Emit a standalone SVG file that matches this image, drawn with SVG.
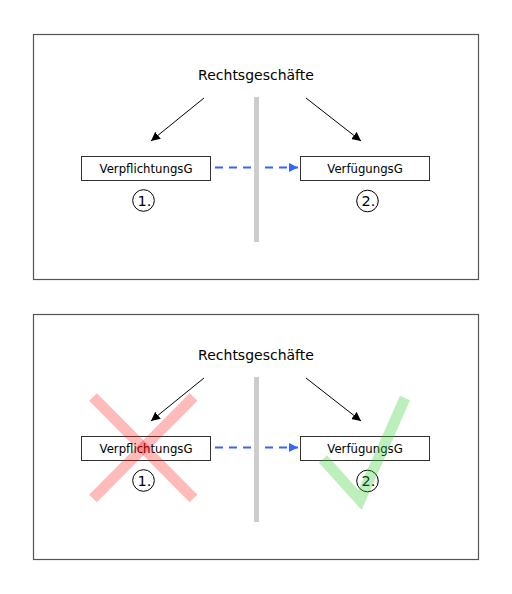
<svg xmlns="http://www.w3.org/2000/svg" width="512" height="594" viewBox="0 0 512 594">
<defs>
<style>
.frame{fill:#fff;stroke:#555;stroke-width:1.2}
.box{fill:#fff;stroke:#333;stroke-width:1}
.t{font-family:"DejaVu Sans",Verdana,sans-serif;fill:#000;text-anchor:middle}
.title{font-size:14px}
.lbl{font-size:11.7px}
.num{font-size:14.5px}
.arrow{stroke:#000;stroke-width:1;fill:none;marker-end:url(#ah)}
.dash{stroke:#3366ff;stroke-width:2;stroke-dasharray:8 6;fill:none}
.bar{fill:#cccccc}
.circ{fill:none;stroke:#000;stroke-width:1}
</style>
<marker id="ah" viewBox="0 0 10 10" refX="10" refY="5" markerWidth="9" markerHeight="9" markerUnits="userSpaceOnUse" orient="auto">
<path d="M0,0 L10,5 L0,10 Z" fill="#000"/>
</marker>
<marker id="bh" viewBox="0 0 10 10" refX="10" refY="5" markerWidth="4.5" markerHeight="4.5" orient="auto">
<path d="M0,0 L10,5 L0,10 Z" fill="#3366ff"/>
</marker>
</defs>
<g id="panel1">
<rect class="frame" x="33.5" y="34.5" width="445" height="245"/>
<g id="title1"><text class="t title" x="256" y="80">Rechtsgeschäfte</text></g>
<rect class="bar" x="254" y="97" width="5" height="145"/>
<g id="connectors1">
<line class="arrow" x1="204" y1="98" x2="151" y2="141"/>
<line class="arrow" x1="306" y1="98" x2="361" y2="141"/>
<line class="dash" x1="215" y1="167.5" x2="252" y2="167.5"/>
<line class="dash" x1="265" y1="167.5" x2="298" y2="167.5" stroke-dasharray="8 5" marker-end="url(#bh)"/>
</g>
<g id="verpflichtung1">
<rect class="box" x="81.5" y="156.5" width="129" height="24"/>
<text class="t lbl" x="146" y="172.5">VerpflichtungsG</text>
</g>
<g id="verfuegung1">
<rect class="box" x="300.5" y="156.5" width="129" height="24"/>
<text class="t lbl" x="365" y="172.5">VerfügungsG</text>
</g>
<g id="num1a"><circle class="circ" cx="143.5" cy="200.5" r="10.8"/><text class="t num" x="144.5" y="205.8">1.</text></g>
<g id="num1b"><circle class="circ" cx="367.5" cy="201" r="10.8"/><text class="t num" x="368.5" y="206.3">2.</text></g>
</g>
<g id="panel2">
<rect class="frame" x="33.5" y="314.5" width="445" height="245"/>
<g id="title2"><text class="t title" x="256" y="360">Rechtsgeschäfte</text></g>
<rect class="bar" x="254" y="377" width="5" height="145"/>
<g id="connectors2">
<line class="arrow" x1="204" y1="378" x2="151" y2="421"/>
<line class="arrow" x1="306" y1="378" x2="361" y2="421"/>
<line class="dash" x1="215" y1="447.5" x2="252" y2="447.5"/>
<line class="dash" x1="265" y1="447.5" x2="298" y2="447.5" stroke-dasharray="8 5" marker-end="url(#bh)"/>
</g>
<g id="verpflichtung2">
<rect class="box" x="81.5" y="436.5" width="129" height="24"/>
<text class="t lbl" x="146" y="452.5">VerpflichtungsG</text>
</g>
<g id="verfuegung2">
<rect class="box" x="300.5" y="436.5" width="129" height="24"/>
<text class="t lbl" x="365" y="452.5">VerfügungsG</text>
</g>
<g id="num2a"><circle class="circ" cx="143.5" cy="480.5" r="10.8"/><text class="t num" x="144.5" y="485.8">1.</text></g>
<g id="num2b"><circle class="circ" cx="367.5" cy="481" r="10.8"/><text class="t num" x="368.5" y="486.3">2.</text></g>
<g id="cross" stroke="#ff0000" stroke-opacity="0.27" stroke-width="11" fill="none">
<line x1="93" y1="397" x2="193.5" y2="498.5"/>
<line x1="193.5" y1="397" x2="93" y2="498.5"/>
</g>
<g id="check">
<path d="M323,459 L360,500 L405,398" stroke="#33cc33" stroke-opacity="0.32" stroke-width="11" fill="none" stroke-linejoin="miter"/>
</g>
</g>
</svg>
